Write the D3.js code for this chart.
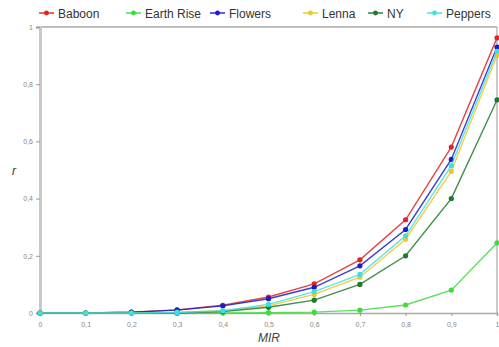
<!DOCTYPE html>
<html><head><meta charset="utf-8">
<script src="https://cdn.jsdelivr.net/npm/d3@7"></script>
<style>body{margin:0;background:#fff}svg{display:block}</style>
</head><body>
<svg id="c" width="499" height="347"></svg>
<script>
const xValues = [0,0.1,0.2,0.3,0.4,0.5,0.6,0.7,0.8,0.9,1];
const seriesNames = ["Baboon","Earth Rise","Flowers","Lenna","NY","Peppers"];
const seriesColors = ["#e02424","#3ddc3d","#1c1cc8","#f2c526","#1f7a2c","#3de0e6"];
const baboon   = [0,0,0.003,0.011,0.027,0.056,0.102,0.186,0.326,0.58,0.962];
const earthRise= [0,0,0,0,0,0.001,0.003,0.01,0.028,0.08,0.245];
const flowers  = [0,0,0.003,0.01,0.025,0.05,0.09,0.165,0.292,0.537,0.93];
const lenna    = [0,0,0,0.002,0.008,0.025,0.065,0.125,0.258,0.495,0.9];
const ny       = [0,0,0,0,0.005,0.02,0.045,0.1,0.2,0.4,0.745];
const peppers  = [0,0,0,0.002,0.008,0.03,0.075,0.135,0.27,0.515,0.915];
const yTicks = [0,0.2,0.4,0.6,0.8,1];
const xTicks = [0,0.1,0.2,0.3,0.4,0.5,0.6,0.7,0.8,0.9,1];
const seriesValues = [baboon,earthRise,flowers,lenna,ny,peppers];

const svg = d3.select("#c");
const L=40, R=497, T=27, B=313;
const x = d3.scaleLinear().domain([0,1]).range([L,R]);
const y = d3.scaleLinear().domain([0,1]).range([B,T]);
const fmt = d => d===0?"0":d===1?"1":String(d).replace(".",",");

// frame
svg.append("line").attr("x1",L).attr("x2",R).attr("y1",T).attr("y2",T).attr("stroke","#a8a8a8").attr("stroke-width",1.5);
svg.append("line").attr("x1",R).attr("x2",R).attr("y1",T).attr("y2",B).attr("stroke","#bbbbbb").attr("stroke-width",1.5);

const yAxis = svg.append("g").attr("transform",`translate(${L},0)`)
  .call(d3.axisLeft(y).tickValues(yTicks).tickFormat(fmt).tickSize(4).tickPadding(3));
yAxis.select(".domain").attr("stroke","#c8c8c8").attr("stroke-width",3);
yAxis.selectAll(".tick line").attr("stroke","#999");
yAxis.selectAll("text").attr("fill","#888").style("font","7px 'Liberation Sans',Arial,sans-serif");

const xAxis = svg.append("g").attr("transform",`translate(0,${B})`)
  .call(d3.axisBottom(x).tickValues(xTicks).tickFormat(fmt).tickSize(3).tickPadding(6));
xAxis.select(".domain").attr("stroke","#a8a8a8").attr("stroke-width",1.5);
xAxis.selectAll(".tick line").attr("stroke","#999");
xAxis.selectAll("text").attr("fill","#888").style("font","7px 'Liberation Sans',Arial,sans-serif");

svg.append("text").attr("x",14).attr("y",175).attr("text-anchor","middle")
  .style("font","italic 12px 'Liberation Sans',Arial,sans-serif").attr("fill","#333").text("r");
svg.append("text").attr("x",269).attr("y",342).attr("text-anchor","middle")
  .style("font","italic 12px 'Liberation Sans',Arial,sans-serif").attr("fill","#444").text("MIR");

const line = d3.line().x((d,i)=>x(xValues[i])).y(d=>y(d));
seriesValues.forEach((vals,k)=>{
  const g = svg.append("g");
  g.append("path").datum(vals).attr("d",line).attr("fill","none")
   .attr("stroke",seriesColors[k]).attr("stroke-width",1.4).attr("stroke-opacity",0.85);
  g.selectAll("circle").data(vals).join("circle")
   .attr("cx",(d,i)=>x(xValues[i])).attr("cy",d=>y(d)).attr("r",2.6).attr("fill",seriesColors[k]);
});

// legend
const legX = [39,126,210,303,368,427];
const leg = svg.append("g");
seriesNames.forEach((n,i)=>{
  const gx = legX[i];
  leg.append("line").attr("x1",gx).attr("x2",gx+15).attr("y1",13).attr("y2",13)
    .attr("stroke",seriesColors[i]).attr("stroke-width",1.4);
  leg.append("circle").attr("cx",gx+7.5).attr("cy",13).attr("r",2.4).attr("fill",seriesColors[i]);
  leg.append("text").attr("x",gx+19).attr("y",17.5)
    .style("font","12px 'Liberation Sans',Arial,sans-serif").attr("fill","#333").text(n);
});
</script>
</body></html>
